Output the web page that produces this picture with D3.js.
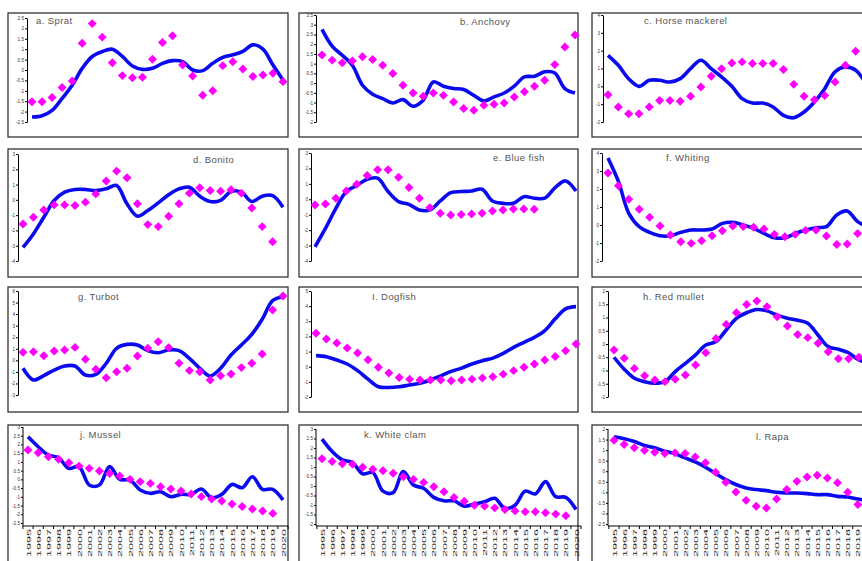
<!DOCTYPE html>
<html>
<head>
<meta charset="utf-8">
<script src="https://cdn.jsdelivr.net/npm/d3@7/dist/d3.min.js"></script>
<style>
  body { margin: 0; background: #fff; }
  svg { display: block; font-family: "Liberation Sans", Arial, sans-serif; }
</style>
</head>
<body>
<svg id="chart" width="862" height="561"></svg>
<script>
// categories
var years = [1995, 1996, 1997, 1998, 1999, 2000, 2001, 2002, 2003, 2004, 2005, 2006, 2007,
             2008, 2009, 2010, 2011, 2012, 2013, 2014, 2015, 2016, 2017, 2018, 2019, 2020]

var titles = ["a. Sprat", "b. Anchovy", "c. Horse mackerel", "d. Bonito", "e. Blue fish", "f. Whiting",
              "g. Turbot", "I. Dogfish", "h. Red mullet", "j. Mussel", "k. White clam", "l. Rapa"]

// blue line series (one per panel)
var spratLine = [-2.26, -2.2, -1.94, -1.37, -0.73, 0.08, 0.65, 0.89, 1.0, 0.65, 0.19, 0.03, 0.08, 0.32, 0.45, 0.4, 0.0, -0.03, 0.32, 0.61, 0.73, 0.89, 1.21, 1.0, 0.24, -0.48]
var anchovyLine = [2.76, 1.9, 1.43, 0.92, -0.11, -0.57, -0.8, -1.02, -0.85, -1.19, -0.88, 0.06, -0.16, -0.28, -0.33, -0.63, -0.92, -0.71, -0.51, -0.16, 0.32, 0.35, 0.58, 0.52, -0.28, -0.51]
var horseLine = [1.74, 1.18, 0.43, 0, 0.34, 0.34, 0.24, 0.43, 0.99, 1.46, 0.99, 0.53, 0, -0.69, -0.94, -0.94, -1.16, -1.63, -1.76, -1.44, -0.88, -0.13, 0.81, 1.09, 0.9, 0.15]
var bonitoLine = [-3.11, -2.23, -1.14, -0.04, 0.5, 0.68, 0.68, 0.61, 0.72, 0.94, -0.26, -1.07, -0.7, -0.2, 0.33, 0.72, 0.83, 0.24, -0.11, -0.04, 0.55, 0.5, -0.11, 0.24, 0.28, -0.48]
var bluefishLine = [-3.08, -1.89, -0.59, 0.5, 0.89, 1.3, 1.37, 0.5, -0.15, -0.33, -0.69, -0.69, -0.11, 0.43, 0.5, 0.54, 0.65, -0.11, -0.26, -0.26, 0.17, 0.07, 0.07, 0.76, 1.19, 0.54]
var whitingLine = [3.72, 2.42, 0.65, -0.09, -0.41, -0.6, -0.6, -0.41, -0.28, -0.28, -0.22, 0.09, 0.15, 0, -0.19, -0.47, -0.71, -0.71, -0.47, -0.28, -0.15, -0.09, 0.56, 0.78, 0.19, -0.1]
var turbotLine = [-0.69, -1.7, -1.32, -0.84, -0.49, -0.49, -1.27, -1.21, -0.26, 1.04, 1.38, 1.33, 0.84, 0.66, 0.89, 0.84, 0.17, -0.69, -1.35, -0.69, 0.46, 1.33, 2.25, 3.55, 5.16, 5.5]
var dogfishLine = [0.73, 0.66, 0.44, 0.18, -0.26, -0.82, -1.32, -1.37, -1.32, -1.21, -1.1, -0.88, -0.6, -0.31, -0.09, 0.18, 0.4, 0.57, 0.88, 1.28, 1.61, 1.94, 2.38, 3.16, 3.82, 3.97]
var mulletLine = [-0.5, -0.95, -1.29, -1.42, -1.48, -1.42, -1.04, -0.73, -0.41, -0.04, 0.09, 0.53, 0.97, 1.18, 1.3, 1.25, 1.09, 0.97, 0.9, 0.78, 0.34, -0.1, -0.2, -0.33, -0.6, -0.72]
var musselLine = [2.44, 1.87, 1.39, 1.24, 0.63, 0.73, -0.32, -0.32, 0.73, 0, -0.04, -0.61, -0.8, -0.71, -0.99, -0.86, -0.86, -0.55, -1.05, -0.86, -0.29, -0.48, 0.15, -0.57, -0.57, -1.18]
var clamLine = [2.47, 1.82, 1.38, 1.24, 0.64, 0.71, -0.27, -0.35, 0.76, 0.05, -0.12, -0.6, -0.78, -0.78, -1.06, -0.95, -0.83, -0.65, -1.18, -1.01, -0.27, -0.42, 0.23, -0.56, -0.6, -1.24]
var rapaLine = [1.63, 1.54, 1.41, 1.22, 1.11, 0.95, 0.82, 0.63, 0.44, 0.19, -0.11, -0.4, -0.63, -0.79, -0.87, -0.92, -1.0, -1.03, -1.03, -1.06, -1.11, -1.11, -1.19, -1.22, -1.32, -1.4]

// magenta diamond series (one per panel)
var spratDots = [-1.53, -1.53, -1.32, -0.84, -0.53, 1.29, 2.23, 1.58, 0.35, -0.27, -0.37, -0.35, 0.52, 1.32, 1.65, 0.24, -0.29, -1.21, -1.0, 0.21, 0.4, 0.05, -0.31, -0.24, -0.16, -0.56]
var anchovyDots = [1.44, 1.18, 1.04, 1.14, 1.35, 1.21, 0.92, 0.49, -0.11, -0.51, -0.68, -0.51, -0.63, -0.97, -1.31, -1.4, -1.14, -1.09, -1.02, -0.71, -0.45, -0.16, 0.15, 0.95, 1.86, 2.47]
var horseDots = [-0.47, -1.16, -1.54, -1.54, -1.16, -0.79, -0.79, -0.84, -0.56, -0.04, 0.56, 0.99, 1.31, 1.37, 1.28, 1.28, 1.28, 0.94, 0.11, -0.56, -0.75, -0.51, 0.24, 1.18, 1.97, 2.2]
var bonitoDots = [-1.58, -1.14, -0.66, -0.33, -0.33, -0.37, -0.15, 0.39, 1.23, 1.88, 1.44, -0.26, -1.62, -1.75, -1.07, -0.26, 0.44, 0.79, 0.61, 0.57, 0.66, 0.44, -0.53, -1.75, -2.74, null]
var bluefishDots = [-0.37, -0.3, 0.07, 0.54, 0.98, 1.54, 1.91, 1.91, 1.43, 0.76, 0.07, -0.54, -0.91, -1.02, -0.98, -0.95, -0.91, -0.76, -0.69, -0.63, -0.63, -0.65, null, null, null, null]
var whitingDots = [2.89, 2.18, 1.43, 0.88, 0.43, -0.06, -0.56, -0.93, -1.02, -0.88, -0.6, -0.32, -0.06, -0.09, -0.13, -0.22, -0.52, -0.65, -0.52, -0.3, -0.28, -0.61, -1.08, -1.06, -0.47, -0.2]
var turbotDots = [0.69, 0.75, 0.4, 0.81, 0.89, 1.12, 0.09, -0.78, -1.5, -0.98, -0.69, 0.37, 1.04, 1.61, 1.1, -0.26, -0.89, -0.98, -1.7, -1.33, -1.18, -0.63, -0.26, 0.55, 4.35, 5.56]
var dogfishDots = [2.21, 1.83, 1.57, 1.24, 0.91, 0.46, -0.04, -0.42, -0.71, -0.82, -0.88, -0.88, -0.88, -0.93, -0.88, -0.82, -0.75, -0.66, -0.49, -0.26, -0.04, 0.18, 0.44, 0.68, 1.06, 1.5]
var mulletDots = [-0.23, -0.54, -0.92, -1.2, -1.36, -1.42, -1.33, -1.17, -0.79, -0.33, 0.21, 0.74, 1.18, 1.49, 1.62, 1.41, 1.03, 0.68, 0.36, 0.24, 0.03, -0.29, -0.56, -0.56, -0.5, -0.6]
var musselDots = [1.68, 1.53, 1.3, 1.15, 0.95, 0.76, 0.63, 0.48, 0.34, 0.19, 0, -0.13, -0.23, -0.42, -0.55, -0.67, -0.84, -0.99, -1.13, -1.24, -1.41, -1.56, -1.7, -1.81, -1.95, null]
var clamDots = [1.43, 1.29, 1.17, 1.15, 0.99, 0.88, 0.8, 0.67, 0.49, 0.35, 0.19, -0.04, -0.3, -0.6, -0.8, -1.01, -1.06, -1.15, -1.24, -1.31, -1.36, -1.36, -1.41, -1.48, -1.57, null]
var rapaDots = [1.47, 1.27, 1.11, 0.98, 0.9, 0.84, 0.87, 0.84, 0.68, 0.4, -0.05, -0.52, -0.98, -1.38, -1.66, -1.74, -1.32, -0.87, -0.48, -0.27, -0.19, -0.32, -0.55, -1.0, -1.58, -1.9]

// y tick labels per panel
var ticksA = [2.5, 2, 1.5, 1, 0.5, 0, -0.5, -1, -1.5, -2, -2.5]
var ticksB = [3.5, 3, 2.5, 2, 1.5, 1, 0.5, 0, -0.5, -1, -1.5, -2]
var ticksC = [4, 3, 2, 1, 0, -1, -2]
var ticksD = [3, 2, 1, 0, -1, -2, -3, -4]
var ticksE = [3, 2, 1, 0, -1, -2, -3, -4]
var ticksF = [4, 3, 2, 1, 0, -1, -2]
var ticksG = [6, 5, 4, 3, 2, 1, 0, -1, -2, -3]
var ticksI = [5, 4, 3, 2, 1, 0, -1, -2]
var ticksH = [2, 1.5, 1, 0.5, 0, -0.5, -1, -1.5, -2]
var ticksJ = [3, 2.5, 2, 1.5, 1, 0.5, 0, -0.5, -1, -1.5, -2, -2.5]
var ticksK = [3, 2.5, 2, 1.5, 1, 0.5, 0, -0.5, -1, -1.5, -2]
var ticksL = [2, 1.5, 1, 0.5, 0, -0.5, -1, -1.5, -2, -2.5]

var lines = [spratLine, anchovyLine, horseLine, bonitoLine, bluefishLine, whitingLine,
             turbotLine, dogfishLine, mulletLine, musselLine, clamLine, rapaLine]
var dots = [spratDots, anchovyDots, horseDots, bonitoDots, bluefishDots, whitingDots,
            turbotDots, dogfishDots, mulletDots, musselDots, clamDots, rapaDots]
var yticks = [ticksA, ticksB, ticksC, ticksD, ticksE, ticksF, ticksG, ticksI, ticksH, ticksJ, ticksK, ticksL]

// panel placement (pixels): frame box, y axis x, first/last category x, top/bottom tick y, title pos
var layout = [
  {box: [8, 13, 280, 124],   ax: 27,  x0: 32,  x1: 283, yt: 18,  yb: 122, tx: 36,  ty: 21},
  {box: [299, 13, 279, 124], ax: 316, x0: 322, x1: 575, yt: 15,  yb: 122, tx: 460, ty: 22},
  {box: [592, 13, 280, 124], ax: 603, x0: 608, x1: 866, yt: 15,  yb: 122, tx: 644, ty: 21},
  {box: [8, 149, 280, 128],  ax: 18,  x0: 23,  x1: 283, yt: 154, yb: 261, tx: 193, ty: 160},
  {box: [299, 149, 279, 128],ax: 311, x0: 315, x1: 576, yt: 153, yb: 261, tx: 493, ty: 158},
  {box: [592, 149, 280, 128],ax: 602, x0: 608, x1: 868, yt: 153, yb: 261, tx: 666, ty: 158},
  {box: [8, 287, 280, 125],  ax: 18,  x0: 23,  x1: 283, yt: 291, yb: 395, tx: 78,  ty: 297},
  {box: [299, 287, 279, 125],ax: 311, x0: 316, x1: 576, yt: 291, yb: 397, tx: 372, ty: 297},
  {box: [592, 287, 280, 125],ax: 608, x0: 614, x1: 869, yt: 291, yb: 397, tx: 643, ty: 297},
  {box: [8, 425, 280, 150],  ax: 23,  x0: 28,  x1: 283, yt: 427, yb: 523, tx: 80,  ty: 435, xaxis: 526},
  {box: [299, 425, 279, 150],ax: 316, x0: 322, x1: 576, yt: 429, yb: 524, tx: 364, ty: 435, xaxis: 526},
  {box: [592, 425, 280, 150],ax: 608, x0: 614, x1: 868, yt: 429, yb: 524, tx: 756, ty: 437, xaxis: 526}
]

var svg = d3.select("#chart")
svg.append("rect").attr("width", 862).attr("height", 561).attr("fill", "#fff")

var diamond = d3.symbol().type(d3.symbolSquare).size(40)

layout.forEach(function(L, p){
  var g = svg.append("g").attr("class", "panel")

  g.append("rect")
    .attr("x", L.box[0]).attr("y", L.box[1])
    .attr("width", L.box[2]).attr("height", L.box[3])
    .attr("fill", "#fff").attr("stroke", "#333").attr("stroke-width", 1.3)

  var x = d3.scalePoint().domain(years).range([L.x0, L.x1])
  var tks = yticks[p]
  var y = d3.scaleLinear().domain([d3.min(tks), d3.max(tks)]).range([L.yb, L.yt])

  // y axis
  var yAxis = d3.axisLeft(y).tickValues(tks).tickSize(2).tickSizeOuter(0).tickPadding(1)
    .tickFormat(function(d){ return String(+d.toFixed(1)) })
  var ya = g.append("g").attr("transform", "translate(" + L.ax + ",0)").call(yAxis)
  ya.select(".domain").attr("stroke", "#000").attr("stroke-width", 1)
  ya.selectAll(".tick line").attr("stroke", "#000")
  ya.selectAll("text").attr("font-size", 4.6).attr("fill", "#333")
  if (L.xaxis) {
    ya.select(".domain").attr("d", "M0," + L.yt + "V" + L.xaxis)
  }

  // x axis (bottom row only)
  if (L.xaxis) {
    var step = x.step()
    var xa = g.append("g").attr("transform", "translate(0," + L.xaxis + ")")
    xa.append("line").attr("x1", L.ax).attr("x2", L.x1 + step / 2)
      .attr("stroke", "#000").attr("stroke-width", 1)
    xa.selectAll(".bt").data(years.concat(["end"])).enter().append("line")
      .attr("class", "bt")
      .attr("x1", function(d, i){ return L.x0 - step / 2 + i * step })
      .attr("x2", function(d, i){ return L.x0 - step / 2 + i * step })
      .attr("y1", 0).attr("y2", 3).attr("stroke", "#000")
    var xAxis = d3.axisBottom(x).tickSize(0).tickPadding(0)
    var xl = g.append("g").attr("transform", "translate(0," + L.xaxis + ")").call(xAxis)
    xl.select(".domain").remove()
    xl.selectAll("text")
      .attr("font-size", 6).attr("fill", "#222")
      .attr("text-anchor", "end").attr("dy", "0.35em").attr("y", 0)
      .attr("transform", "translate(0,3) rotate(-90) scale(2.1,1)")
  }

  // blue line
  var line = d3.line()
    .defined(function(d){ return d != null })
    .x(function(d, i){ return x(years[i]) })
    .y(function(d){ return y(d) })
    .curve(d3.curveCatmullRom)
  g.append("path").datum(lines[p])
    .attr("d", line)
    .attr("fill", "none").attr("stroke", "#0a0aee")
    .attr("stroke-width", 3.6).attr("stroke-linejoin", "round")

  // magenta diamonds
  var pts = dots[p].map(function(v, i){ return {year: years[i], v: v} })
    .filter(function(d){ return d.v != null })
  g.selectAll(".dot").data(pts).enter().append("path")
    .attr("class", "dot")
    .attr("d", diamond)
    .attr("transform", function(d){ return "translate(" + x(d.year) + "," + y(d.v) + ") rotate(45)" })
    .attr("fill", "#ff00ff")

  g.append("text")
    .attr("x", L.tx).attr("y", L.ty).attr("dy", "0.35em")
    .attr("font-size", 9.5).attr("letter-spacing", 0.4)
    .attr("fill", "#555")
    .text(titles[p])
})
</script>
</body>
</html>
